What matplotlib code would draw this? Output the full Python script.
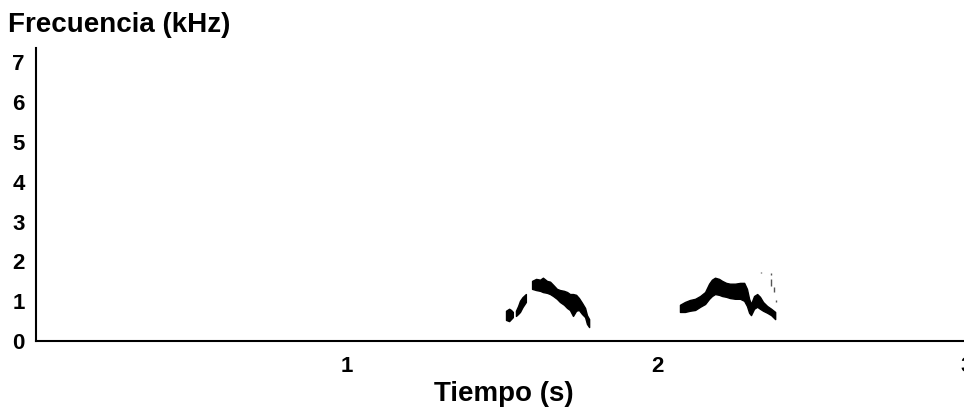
import matplotlib.pyplot as plt

# syllable 1: two small fragments then the main arc (time in s, freq in kHz)
s1a_t = [1.513, 1.523, 1.529, 1.535]
s1a_lo = [0.53, 0.50, 0.55, 0.60]
s1a_hi = [0.76, 0.81, 0.78, 0.73]

s1b_t = [1.545, 1.552, 1.558, 1.566, 1.577]
s1b_lo = [0.63, 0.68, 0.73, 0.85, 0.98]
s1b_hi = [0.76, 0.88, 1.01, 1.10, 1.18]

s1_t = [1.597, 1.610, 1.623, 1.632, 1.645, 1.655, 1.665, 1.677, 1.687, 1.700,
        1.710, 1.719, 1.729, 1.739, 1.748, 1.758, 1.768, 1.774, 1.781]
s1_hi = [1.51, 1.56, 1.54, 1.59, 1.51, 1.49, 1.41, 1.31, 1.28, 1.26,
         1.23, 1.18, 1.18, 1.16, 1.08, 0.96, 0.83, 0.65, 0.55]
s1_lo = [1.31, 1.28, 1.26, 1.23, 1.21, 1.18, 1.13, 1.06, 0.98, 0.91,
         0.83, 0.78, 0.63, 0.76, 0.78, 0.68, 0.60, 0.43, 0.35]

# syllable 2
s2_t = [2.074, 2.090, 2.106, 2.123, 2.139, 2.155, 2.168, 2.177, 2.187, 2.200,
        2.210, 2.223, 2.235, 2.252, 2.268, 2.281, 2.290, 2.297, 2.303, 2.313,
        2.323, 2.332, 2.342, 2.355, 2.368, 2.381]
s2_hi = [0.91, 0.98, 1.03, 1.06, 1.13, 1.23, 1.44, 1.54, 1.59, 1.56,
         1.51, 1.46, 1.44, 1.44, 1.46, 1.46, 1.31, 1.06, 0.93, 1.13,
         1.18, 1.11, 0.98, 0.88, 0.81, 0.73]
s2_lo = [0.73, 0.73, 0.76, 0.78, 0.86, 0.93, 1.06, 1.13, 1.18, 1.16,
         1.13, 1.11, 1.08, 1.06, 1.06, 1.01, 0.88, 0.71, 0.65, 0.81,
         0.86, 0.81, 0.76, 0.71, 0.65, 0.55]

# faint specks above the second syllable
noise_t = [2.335, 2.368, 2.368, 2.377, 2.384]
noise_lo = [1.71, 1.67, 1.39, 1.23, 0.98]
noise_hi = [1.74, 1.70, 1.56, 1.36, 1.02]

xticks = [1, 2, 3]
yticks = [0, 1, 2, 3, 4, 5, 6, 7]

plt.rcParams['font.family'] = ['Liberation Sans', 'DejaVu Sans']
plt.rcParams['font.weight'] = 'bold'

fig = plt.figure(figsize=(9.64, 4.12), dpi=100)
ax = fig.add_axes([0.0373, 0.1723, 1.0, 0.7112])

for t, lo, hi in [(s1a_t, s1a_lo, s1a_hi), (s1b_t, s1b_lo, s1b_hi),
                  (s1_t, s1_lo, s1_hi), (s2_t, s2_lo, s2_hi)]:
    ax.fill_between(t, lo, hi, color='black', linewidth=1.0)

ax.vlines(noise_t, noise_lo, noise_hi, color='#555555', linewidth=1.0)

ax.set_xlim(-0.003, 3.106)
ax.set_ylim(0, 7.36)
ax.set_xticks(xticks)
ax.set_xticklabels([str(v) for v in xticks])
ax.set_yticks(yticks)
ax.set_yticklabels([str(v) for v in yticks])
ax.tick_params(axis='x', length=0, pad=11, labelsize=16)
ax.tick_params(axis='y', length=0, pad=8, labelsize=16)
for lbl in ax.get_xticklabels() + ax.get_yticklabels():
    lbl.set_fontweight('bold')

ax.spines['top'].set_visible(False)
ax.spines['right'].set_visible(False)
ax.spines['left'].set_linewidth(1.5)
ax.spines['bottom'].set_linewidth(1.5)

fig.text(8 / 964, 0.922, 'Frecuencia (kHz)', fontsize=20, fontweight='bold',
         ha='left', va='baseline')
fig.text(504 / 964, 0.027, 'Tiempo (s)', fontsize=20, fontweight='bold',
         ha='center', va='baseline')

fig.savefig('out.png', dpi=100)
